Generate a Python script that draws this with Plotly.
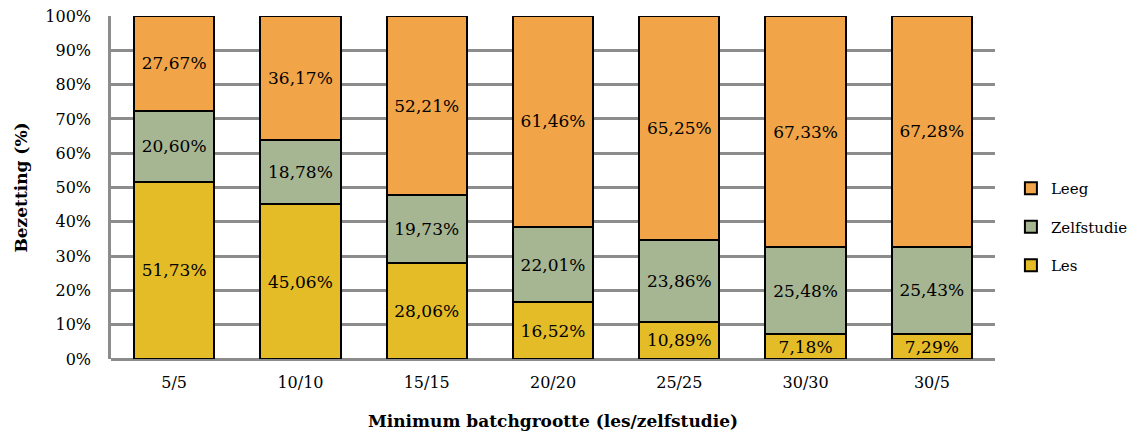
import plotly.graph_objects as go

categories = ["5/5", "10/10", "15/15", "20/20", "25/25", "30/30", "30/5"]
les = [51.73, 45.06, 28.06, 16.52, 10.89, 7.18, 7.29]
zelfstudie = [20.60, 18.78, 19.73, 22.01, 23.86, 25.48, 25.43]
leeg = [27.67, 36.17, 52.21, 61.46, 65.25, 67.33, 67.28]
y_ticks = list(range(0, 101, 10))
y_tick_text = [f"{v}%" for v in y_ticks]

# (name, values, colour, legend rank) — stacked bottom to top, listed top to bottom
series = [
    ("Les", les, "#E4BC28", 3),
    ("Zelfstudie", zelfstudie, "#A6B592", 2),
    ("Leeg", leeg, "#F1A548", 1),
]

FONT = "DejaVu Serif, Liberation Serif, serif"

fig = go.Figure()
for name, vals, color, rank in series:
    fig.add_trace(go.Bar(
        name=name,
        x=categories,
        y=vals,
        legendgroup=name,
        legendrank=rank,
        marker=dict(color=color, line=dict(color="#000000", width=2)),
        texttemplate="%{y:.2f}%",
        textposition="inside",
        insidetextanchor="middle",
        textangle=0,
        constraintext="none",
        textfont=dict(family=FONT, size=17, color="#000000"),
        hoverinfo="skip",
    ))

fig.update_layout(
    barmode="stack",
    bargap=0.365,
    width=1136,
    height=432,
    margin=dict(l=111, r=141, t=16, b=73, autoexpand=False),
    paper_bgcolor="white",
    plot_bgcolor="white",
    separators=",.",
    font=dict(family=FONT, size=16, color="#000000"),
    legend=dict(
        x=1.018, xanchor="left",
        y=0.385, yanchor="middle",
        traceorder="grouped",
        tracegroupgap=16,
        font=dict(family=FONT, size=15, color="#000000"),
        itemwidth=30,
    ),
    xaxis=dict(
        title=dict(text="<b>Minimum batchgrootte (les/zelfstudie)</b>",
                   font=dict(family=FONT, size=17), standoff=24),
        automargin=False,
        showline=False,
        showgrid=False,
        ticks="",
        ticklabelstandoff=12,
        tickfont=dict(family=FONT, size=16),
    ),
    yaxis=dict(
        title=dict(text="<b>Bezetting (%)</b>", font=dict(family=FONT, size=17), standoff=14),
        automargin=False,
        range=[0, 100],
        tickvals=y_ticks,
        ticktext=y_tick_text,
        showgrid=True,
        gridcolor="#8C8C8C",
        gridwidth=2.5,
        showline=True,
        linecolor="#8C8C8C",
        linewidth=2.5,
        zeroline=True,
        zerolinecolor="#8C8C8C",
        zerolinewidth=3,
        ticks="",
        ticklabelstandoff=14,
        tickfont=dict(family=FONT, size=16),
    ),
)

fig.write_html("out.html")
